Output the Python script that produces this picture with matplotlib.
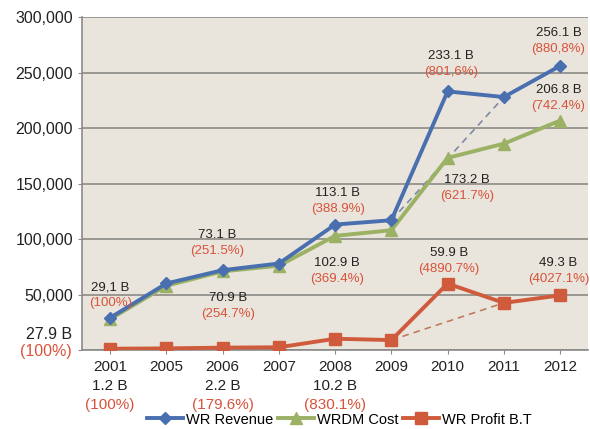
# WR revenue / WRDM cost / profit chart
import matplotlib.pyplot as plt
from matplotlib.ticker import FuncFormatter
import matplotlib.transforms as mtransforms

plt.rcParams['font.family'] = ['Liberation Sans', 'DejaVu Sans']

years = ['2001', '2005', '2006', '2007', '2008', '2009', '2010', '2011', '2012']
revenue = [29100, 60000, 72000, 78000, 113100, 117000, 233100, 228000, 256100]
cost = [27900, 58000, 70900, 76000, 102900, 108000, 173200, 186000, 206800]
profit = [1200, 1500, 2200, 2500, 10200, 9000, 59900, 42500, 49300]

c_rev = '#4a6faf'
c_cost = '#9bb164'
c_prof = '#cf5b3c'
c_red = '#d9523a'
c_txt = '#222222'

x = list(range(len(years)))

fig = plt.figure(figsize=(5.9, 4.29), dpi=100)
ax = fig.add_axes([0.139, 0.184, 0.858, 0.776])
ax.set_facecolor('#e9e5dc')

# dashed trend lines 2009 -> 2011
ax.plot([5, 7], [revenue[5], revenue[7]], color='#7f8aa8', lw=1.2,
        ls=(0, (4, 3)), zorder=2)
ax.plot([5, 7], [profit[5], profit[7]], color='#c07c60', lw=1.2,
        ls=(0, (4, 3)), zorder=2)

ax.plot(x, revenue, color=c_rev, lw=2.8, marker='D', ms=6.5,
        label='WR Revenue', zorder=4)
ax.plot(x, cost, color=c_cost, lw=2.8, marker='^', ms=8,
        label='WRDM Cost', zorder=3)
ax.plot(x, profit, color=c_prof, lw=2.8, marker='s', ms=9,
        label='WR Profit B.T', zorder=3)

ax.set_xlim(-0.5, 8.5)
ax.set_ylim(0, 300000)
ax.set_yticks(range(0, 300001, 50000))
ax.yaxis.set_major_formatter(
    FuncFormatter(lambda v, p: '' if v == 0 else '{:,.0f}'.format(v)))
ax.set_xticks(x)
ax.set_xticklabels(years)
ax.tick_params(axis='both', labelsize=11.5, colors='#8a8a8a',
               labelcolor=c_txt, length=3)
ax.tick_params(axis='x', pad=4, labelsize=11)
ax.grid(axis='y', color='#8c8a86', lw=1.2)
ax.set_axisbelow(True)
for s in ['top', 'right']:
    ax.spines[s].set_visible(False)
for s in ['left', 'bottom']:
    ax.spines[s].set_color('#8a8a8a')
    ax.spines[s].set_linewidth(1.2)

# value labels (value, percentage)
labels = [
    (0.0, 56800, '29,1 B', '(100%)'),
    (1.91, 103600, '73.1 B', '(251.5%)'),
    (2.1, 46800, '70.9 B', '(254.7%)'),
    (4.05, 141400, '113.1 B', '(388.9%)'),
    (4.04, 78400, '102.9 B', '(369.4%)'),
    (6.06, 264900, '233.1 B', '(801,6%)'),
    (6.34, 153000, '173.2 B', '(621.7%)'),
    (7.97, 285600, '256.1 B', '(880,8%)'),
    (7.97, 234000, '206.8 B', '(742.4%)'),
    (6.02, 87400, '59.9 B', '(4890.7%)'),
    (7.97, 78400, '49.3 B', '(4027.1%)'),
]
for lx, ly, val, pct in labels:
    ax.text(lx, ly, val, ha='center', va='center', fontsize=9.5,
            color=c_txt, zorder=5)
    ax.text(lx, ly - 14400, pct, ha='center', va='center', fontsize=9.5,
            color=c_red, zorder=5)

# cost label for 2001 left of the axis
ax.text(-0.68, 14400, '27.9 B', ha='right', va='center', fontsize=11.5,
        color=c_txt, clip_on=False)
ax.text(-0.68, -900, '(100%)', ha='right', va='center', fontsize=11.5,
        color=c_red, clip_on=False)

# profit labels under the year ticks
trans = mtransforms.blended_transform_factory(ax.transData, ax.transAxes)
below = [(0, '1.2 B', '(100%)'), (2, '2.2 B', '(179.6%)'),
         (4, '10.2 B', '(830.1%)')]
for bx, val, pct in below:
    ax.text(bx, -0.108, val, transform=trans, ha='center', va='center',
            fontsize=11, color=c_txt, clip_on=False)
    ax.text(bx, -0.165, pct, transform=trans, ha='center', va='center',
            fontsize=11, color=c_red, clip_on=False)

fig.legend(loc='lower center', bbox_to_anchor=(0.575, -0.025), ncol=3,
           frameon=False, fontsize=10.5, handlelength=2.5, columnspacing=0.3,
           handletextpad=0.2)

fig.savefig('out.png', dpi=100, facecolor='white')
